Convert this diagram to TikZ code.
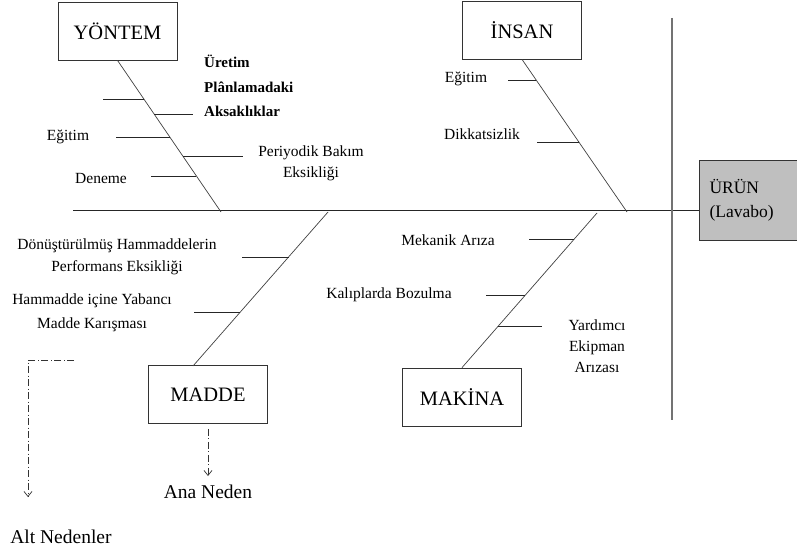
\documentclass[tikz,border=0pt]{standalone}
\usepackage{fontspec}
\setmainfont{Liberation Serif}
\usetikzlibrary{arrows.meta}
\begin{document}
\begin{tikzpicture}[x=1pt,y=-1pt,
  catbox/.style={draw=black!80, line width=0.8pt, minimum width=119pt, minimum height=58pt, inner sep=0pt, font=\fontsize{20.5}{24}\selectfont},
  bone/.style={draw=black!75, line width=0.7pt},
  subbone/.style={draw=black!85, line width=0.8pt},
  lbl/.style={font=\fontsize{15.5}{22}\selectfont, align=center, inner sep=0pt},
  boldlbl/.style={font=\fontsize{15}{24.5}\selectfont\bfseries, align=left, inner sep=0pt},
  legend/.style={draw=black!80, line width=0.7pt, dash pattern=on 7pt off 2.5pt on 1pt off 2.5pt, -{Straight Barb[length=5pt,width=8pt]}},
  bigtxt/.style={font=\fontsize{19.5}{22}\selectfont, inner sep=0pt}]
\useasboundingbox (0,0) rectangle (797,551);

% category boxes
\node[catbox] (yontem) at (117.5,31) {YÖNTEM};
\node[catbox] (insan) at (522,30) {İNSAN};
\node[catbox] (madde) at (208,394.5) {MADDE};
\node[catbox] (makina) at (462,397) {MAKİNA};
\node[draw=black!80, line width=0.8pt, fill=black!25, minimum width=95pt, minimum height=80pt,
      text width=80pt, align=left, inner xsep=10pt, font=\fontsize{17.5}{24}\selectfont] (urun) at (749.5,200) {ÜRÜN\\(Lavabo)};

% spine and vertical line
\coordinate (spinestart) at (73,210);
\draw[draw=black!85, line width=0.8pt] (spinestart) -- (urun.west |- spinestart);
\coordinate (vtop) at (672,18);
\coordinate (vbot) at (672,420);
\draw[draw=black!55, line width=1.5pt] (vtop) -- (vbot);

% main bones
\coordinate (yend) at (221,212);
\coordinate (iend) at (627,212);
\coordinate (mtop) at (328,212);
\coordinate (mbot) at (193,366);
\coordinate (ktop) at (597,213);
\draw[bone] (yontem.south) -- (yend);
\draw[bone] (insan.south) -- (iend);
\draw[bone] (mtop) -- (mbot);
\draw[bone] (ktop) -- (makina.north);

% YONTEM sub bones
\coordinate (ya1) at (103,99);  \coordinate (ya2) at (144,99);
\coordinate (yb1) at (154,114); \coordinate (yb2) at (193,114);
\coordinate (yc1) at (116,137); \coordinate (yc2) at (170,137);
\coordinate (yd1) at (183,156); \coordinate (yd2) at (243,156);
\coordinate (ye1) at (151,176); \coordinate (ye2) at (196,176);
\draw[subbone] (ya1) -- (ya2);
\draw[subbone] (yb1) -- (yb2);
\draw[subbone] (yc1) -- (yc2);
\draw[subbone] (yd1) -- (yd2);
\draw[subbone] (ye1) -- (ye2);
\node[boldlbl, anchor=north west] (uretim) at (204,55) {Üretim\\Plânlamadaki\\Aksaklıklar};
\node[lbl] (yegitim) at (68,137) {Eğitim};
\node[lbl] (deneme) at (101,178) {Deneme};
\node[lbl, font=\fontsize{15.5}{21}\selectfont] (periyodik) at (311,163) {Periyodik Bakım\\Eksikliği};

% INSAN sub bones
\coordinate (ia1) at (508,80);  \coordinate (ia2) at (536,80);
\coordinate (ib1) at (537,142); \coordinate (ib2) at (579,142);
\draw[subbone] (ia1) -- (ia2);
\draw[subbone] (ib1) -- (ib2);
\node[lbl] (iegitim) at (466,79) {Eğitim};
\node[lbl] (dikkat) at (482,134) {Dikkatsizlik};

% MADDE sub bones
\coordinate (ma1) at (242,257); \coordinate (ma2) at (289,257);
\coordinate (mb1) at (194,312); \coordinate (mb2) at (240,312);
\draw[subbone] (ma1) -- (ma2);
\draw[subbone] (mb1) -- (mb2);
\node[lbl] (donus) at (117,257) {Dönüştürülmüş Hammaddelerin\\Performans Eksikliği};
\node[lbl, font=\fontsize{15.5}{24.5}\selectfont] (yabanci) at (92,313) {Hammadde içine Yabancı\\Madde Karışması};

% MAKINA sub bones
\coordinate (ka1) at (529,239); \coordinate (ka2) at (574,239);
\coordinate (kb1) at (486,295); \coordinate (kb2) at (525,295);
\coordinate (kc1) at (498,326); \coordinate (kc2) at (542,326);
\draw[subbone] (ka1) -- (ka2);
\draw[subbone] (kb1) -- (kb2);
\draw[subbone] (kc1) -- (kc2);
\node[lbl] (mekanik) at (448,240) {Mekanik Arıza};
\node[lbl] (kalip) at (389,295) {Kalıplarda Bozulma};
\node[lbl, font=\fontsize{15.5}{21}\selectfont] (yardimci) at (597,346) {Yardımcı\\Ekipman\\Arızası};

% legend
\coordinate (lstart) at (74,360);
\coordinate (lcorner) at (28,360);
\coordinate (lend) at (28,497);
\draw[legend] (lstart) -- (lcorner) -- (lend);
\node[bigtxt] (alt) at (61,537) {Alt Nedenler};
\coordinate (aend) at (208,476);
\draw[legend] (madde.south) ++(0,5) coordinate (astart) (astart) -- (aend);
\node[bigtxt] (ana) at (208,492) {Ana Neden};
\end{tikzpicture}
\end{document}
